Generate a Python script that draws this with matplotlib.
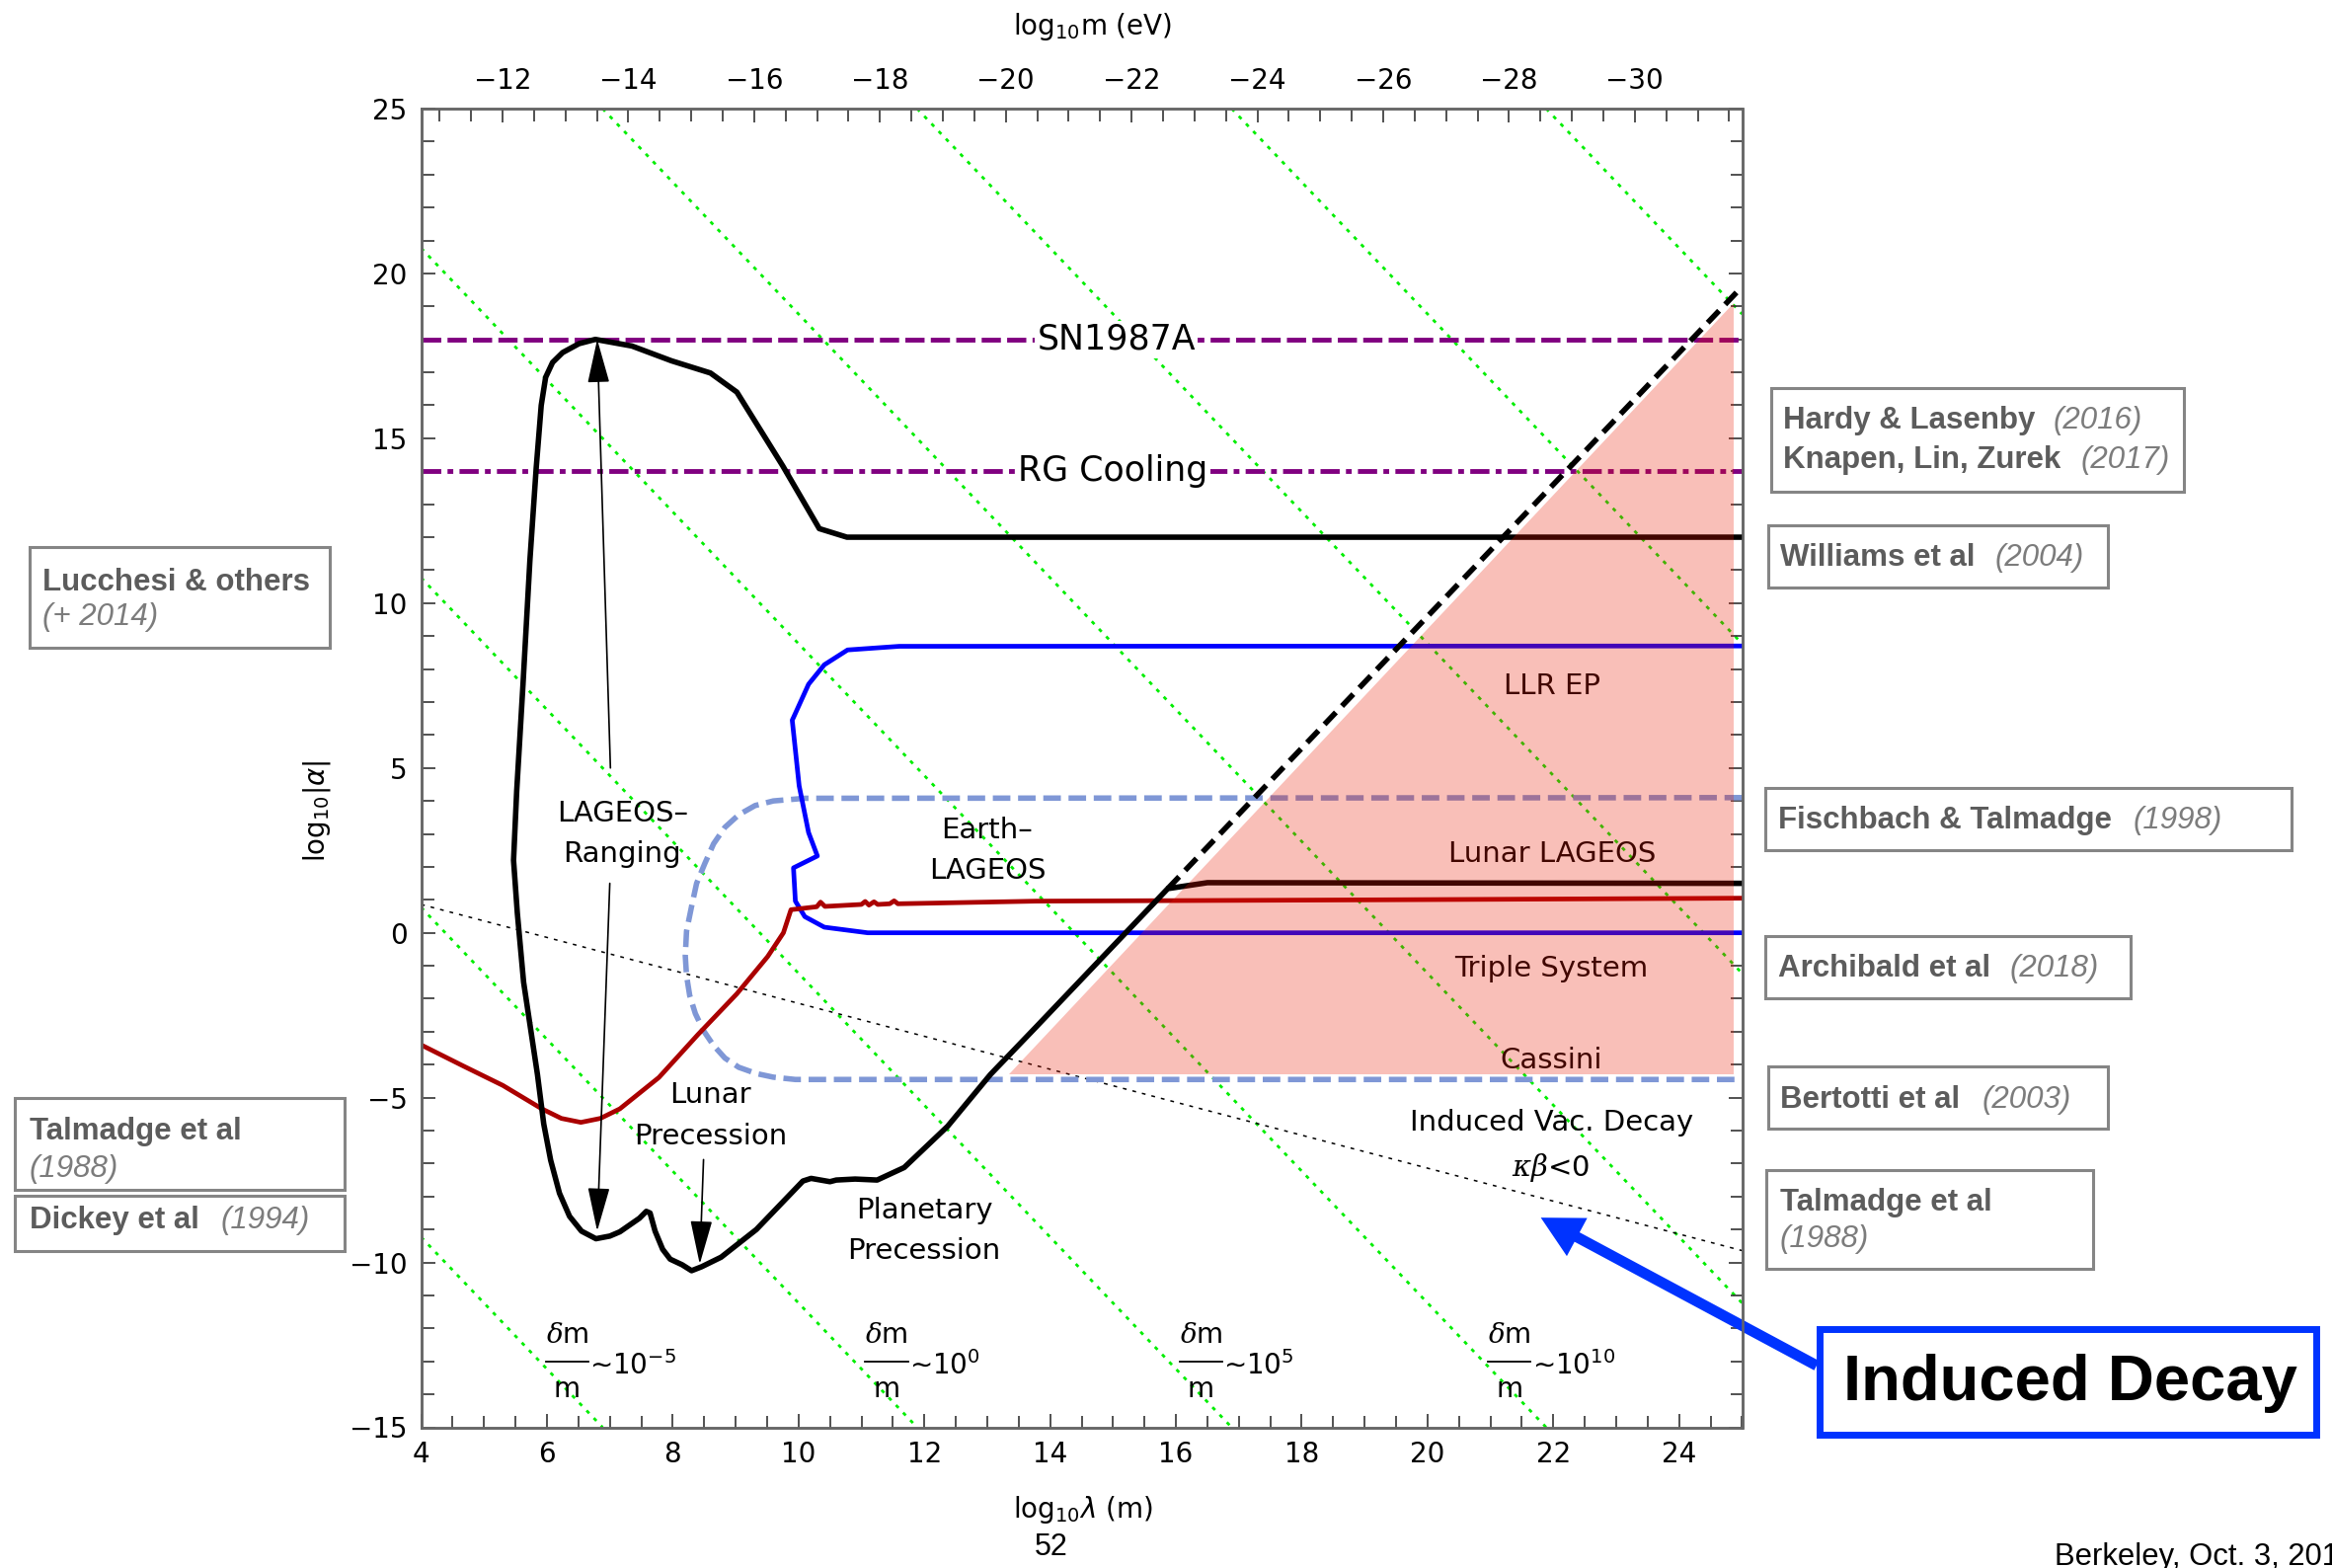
import matplotlib.pyplot as plt
from matplotlib.patches import Rectangle

W, H = 2362, 1588

# plot ranges
lam_lim = (4, 25)
alpha_lim = (-15, 25)
log_hbarc = -6.705  # log10(hbar*c) in eV m, links lambda to m

# black bound: LAGEOS ranging, lunar/planetary precession, Lunar LAGEOS
lageos_x = [25.0, 10.77, 10.33, 9.75, 9.02, 8.60, 7.98, 7.35, 6.77, 6.51, 6.25, 6.09,
            5.98, 5.91, 5.83, 5.73, 5.62, 5.52, 5.47, 5.53, 5.63, 5.74, 5.85, 5.95,
            6.06, 6.20, 6.36, 6.55, 6.78, 7.00, 7.16, 7.47, 7.58, 7.64, 7.72, 7.84,
            7.96, 8.15, 8.30, 8.46, 8.77, 9.33, 10.07, 10.20, 10.50, 10.60, 10.90,
            11.25, 11.68, 12.37, 13.05, 13.78, 15.87, 16.50, 25.0]
lageos_y = [12.0, 12.0, 12.26, 14.16, 16.40, 16.98, 17.35, 17.80, 18.0, 17.87, 17.60,
            17.30, 16.85, 16.0, 14.1, 11.3, 7.53, 4.3, 2.2, 0.6, -1.5, -2.9, -4.3, -5.8,
            -6.9, -7.9, -8.6, -9.05, -9.28, -9.2, -9.07, -8.66, -8.45, -8.5, -9.05, -9.6,
            -9.9, -10.07, -10.25, -10.13, -9.84, -9.0, -7.53, -7.45, -7.55, -7.5, -7.47,
            -7.5, -7.12, -5.87, -4.3, -2.85, 1.34, 1.52, 1.5]

# continuation of the bound along slope 2
edge_x = [15.87, 25.0]
edge_y = [1.34, 19.6]

# blue: LLR EP (top) and Triple System (bottom)
llr_x = [25.0, 11.6, 10.78, 10.41, 10.16, 9.92, 9.90, 10.01, 10.16, 10.30, 9.92,
         9.95, 10.10, 10.41, 11.10, 25.0]
llr_y = [8.7, 8.69, 8.58, 8.13, 7.54, 6.53, 6.45, 4.46, 3.04, 2.33, 1.97,
         0.96, 0.49, 0.17, 0.0, 0.0]

# dark red: Earth-LAGEOS
red_x = [4.0, 4.67, 5.30, 5.92, 6.23, 6.54, 6.85, 7.16, 7.78, 8.40, 9.02, 9.51, 9.76,
         9.88, 10.29, 10.35, 10.42, 11.00, 11.06, 11.12, 11.20, 11.26, 11.45, 11.52,
         11.58, 13.78, 19.27, 25.0]
red_y = [-3.4, -4.04, -4.63, -5.34, -5.63, -5.75, -5.63, -5.34, -4.39, -3.09, -1.85,
         -0.72, 0.0, 0.7, 0.79, 0.93, 0.80, 0.86, 0.95, 0.84, 0.94, 0.86, 0.88, 0.97,
         0.88, 0.96, 1.0, 1.05]

# light blue dashed: Fischbach & Talmadge / Cassini
fisch_x = [25.0, 10.1, 9.6, 9.31, 9.05, 8.83, 8.65, 8.51, 8.38, 8.30, 8.22, 8.20, 8.22,
           8.27, 8.36, 8.49, 8.65, 8.83, 9.05, 9.33, 9.6, 9.95, 25.0]
fisch_y = [4.1, 4.08, 4.0, 3.86, 3.58, 3.2, 2.7, 2.1, 1.5, 0.8, 0.05, -0.7, -1.3,
           -1.9, -2.45, -2.97, -3.42, -3.8, -4.08, -4.27, -4.38, -4.45, -4.45]

# induced vacuum decay region
induced_x = [13.35, 24.87, 24.87]
induced_y = [-4.3, -4.3, 19.1]

sn1987a = 18.0
rg_cooling = 14.0

# constant dm/m lines, slope -2
dm_slope = -2.0
dm_intercepts = [-1.23, 8.77, 18.77, 28.77, 38.77, 48.77, 58.77, 68.77]
dm_label_x = [5.98, 11.06, 16.06, 20.96]
dm_label_exp = ['-5', '0', '5', '10']
dm_label_y = -13.0

# kappa*beta < 0 line
vac_intercept = 2.86
vac_slope = -0.5

m_ticks = list(range(-12, -31, -2))
lam_ticks = list(range(4, 25, 2))
alpha_ticks = list(range(-15, 26, 5))


def fx(X):
    return X / W


def fy(Y):
    return 1 - Y / H


fig = plt.figure(figsize=(W / 100, H / 100), dpi=100)
ax = fig.add_axes([fx(426.5), fy(1445.5), (1764.5 - 426.5) / W, (1445.5 - 110) / H])
ax.set_xlim(*lam_lim)
ax.set_ylim(*alpha_lim)

for c in dm_intercepts:
    ax.axline((0, c), slope=dm_slope, color='#00ee00', lw=2.0,
              dashes=(1.4, 2.4), zorder=1)
ax.axline((0, vac_intercept), slope=vac_slope, color='black', lw=1.1,
          dashes=(2.5, 4), zorder=1)

ax.axhline(sn1987a, color='#800080', lw=3.5, dashes=(4, 1.3), zorder=2)
ax.axhline(rg_cooling, color='#800080', lw=3.5, dashes=(4, 1.3, 1.2, 1.3), zorder=2)

ax.plot(fisch_x, fisch_y, color='#7f97d6', lw=4, dashes=(3.2, 1.4), zorder=2.5)
ax.plot(llr_x, llr_y, color='#0000ff', lw=3.4, zorder=3)
ax.plot(red_x, red_y, color='#aa0000', lw=3.4, zorder=3)
ax.plot(lageos_x, lageos_y, color='black', lw=4, zorder=3.2)

ax.fill(induced_x, induced_y, color='#eb1900', alpha=0.28, lw=0, zorder=5)
ax.plot(edge_x, edge_y, color='black', lw=4, dashes=(3, 1.6), zorder=6)

# labels inside the plot
lab = dict(fontsize=21, ha='center', va='center', family='DejaVu Sans')
box = dict(fc='white', ec='none', pad=1.5)
ax.text(15.05, sn1987a, 'SN1987A', fontsize=25, ha='center', va='center', bbox=box, zorder=3.5)
ax.text(15.0, rg_cooling, 'RG Cooling', fontsize=25, ha='center', va='center', bbox=box, zorder=3.5)
ax.text(7.2, 3.0, 'LAGEOS–\nRanging', linespacing=1.6, zorder=4, **lab)
ax.text(13.0, 2.5, 'Earth–\nLAGEOS', linespacing=1.6, zorder=4, **lab)
ax.text(8.6, -5.55, 'Lunar\nPrecession', linespacing=1.6, zorder=4, **lab)
ax.text(12.0, -9.03, 'Planetary\nPrecession', linespacing=1.6, zorder=4, **lab)
ax.text(21.98, 7.48, 'LLR EP', zorder=4, **lab)
ax.text(21.98, 2.38, 'Lunar LAGEOS', zorder=4, **lab)
ax.text(21.96, -1.08, 'Triple System', zorder=4, **lab)
ax.text(21.96, -3.87, 'Cassini', zorder=4, **lab)
ax.text(21.98, -5.76, 'Induced Vac. Decay', zorder=4, **lab)
ax.text(21.96, -7.12, r'$\kappa\beta$<0', zorder=4, math_fontfamily='dejavuserif', **lab)

# dm/m ~ 10^n labels, written as a stacked fraction
frac_w = 0.68
for x0, e in zip(dm_label_x, dm_label_exp):
    xc = x0 + frac_w / 2
    ax.text(xc, dm_label_y + 0.8, r'$\delta$m', fontsize=20, ha='center', va='center',
            math_fontfamily='dejavuserif', zorder=4)
    ax.text(xc, dm_label_y - 0.85, 'm', fontsize=20, ha='center', va='center', zorder=4)
    ax.plot([x0, x0 + frac_w], [dm_label_y, dm_label_y], color='black', lw=1.3, zorder=4)
    ax.text(x0 + frac_w + 0.02, dm_label_y - 0.12, '∼10$^{%s}$' % e.replace('-', '−'),
            fontsize=20, ha='left', va='center', zorder=4)

arrow = dict(arrowstyle='-|>,head_length=1.4,head_width=0.35', lw=1.2, color='black',
             mutation_scale=20, shrinkA=0, shrinkB=0)
ax.annotate('', xy=(6.8, 18.0), xytext=(7.01, 5.0), arrowprops=arrow, zorder=6)
ax.annotate('', xy=(6.8, -9.05), xytext=(7.0, 1.5), arrowprops=arrow, zorder=6)
ax.annotate('', xy=(8.43, -10.05), xytext=(8.49, -6.88), arrowprops=arrow, zorder=6)

# axes, ticks
ax.set_xticks(lam_ticks)
ax.set_xticks([v / 2 for v in range(8, 51)], minor=True)
ax.set_yticks(alpha_ticks)
ax.set_yticks(range(-15, 26), minor=True)
ax.tick_params(which='both', direction='in', top=False, right=True, width=1.2,
               color='#333333', labelsize=20)
ax.tick_params(which='major', length=10, pad=10)
ax.tick_params(which='minor', length=9)
for s in ax.spines.values():
    s.set_color('#666666')
    s.set_linewidth(1.8)

ax2 = ax.twiny()
ax2.set_xlim(log_hbarc - lam_lim[0], log_hbarc - lam_lim[1])
ax2.set_xticks(m_ticks)
ax2.set_xticks([m / 2 for m in range(-22, -64, -1)], minor=True)
ax2.set_xticklabels(['−%d' % -m for m in m_ticks])
ax2.tick_params(which='both', direction='in', width=1.2, color='#333333', labelsize=20)
ax2.tick_params(which='major', length=10, pad=10)
ax2.tick_params(which='minor', length=9)
for s in ax2.spines.values():
    s.set_color('#666666')
    s.set_linewidth(1.8)

fig.text(fx(1107), fy(27), r'log$_{10}$m (eV)', fontsize=20, ha='center', va='center')
fig.text(fx(1097), fy(1529), r'log$_{10}\lambda$ (m)', fontsize=20, ha='center', va='center')
fig.text(fx(321), fy(821), r'log$_{10}|\alpha|$', fontsize=20, ha='center', va='center',
         rotation=90)

# reference boxes around the frame
name_c, year_c, edge_c = '#5c5c5c', '#7c7c7c', '#858585'
sans = 'Liberation Sans'


def ref_box(X0, Y0, X1, Y1):
    fig.add_artist(Rectangle((fx(X0), fy(Y1)), (X1 - X0) / W, (Y1 - Y0) / H,
                             transform=fig.transFigure, fill=False, ec=edge_c, lw=2.2))


def name(X, Y, s):
    fig.text(fx(X), fy(Y), s, fontsize=22.5, family=sans, weight='bold', color=name_c,
             ha='left', va='center')


def year(X, Y, s):
    fig.text(fx(X), fy(Y), s, fontsize=22.5, family=sans, style='italic', color=year_c,
             ha='left', va='center')


ref_box(1794, 393, 2212, 498)
name(1806, 426, 'Hardy & Lasenby')
year(2080, 426, '(2016)')
name(1806, 466, 'Knapen, Lin, Zurek')
year(2108, 466, '(2017)')

ref_box(1791, 532, 2135, 595)
name(1803, 565, 'Williams et al')
year(2021, 565, '(2004)')

ref_box(1788, 798, 2321, 861)
name(1801, 831, 'Fischbach & Talmadge')
year(2161, 831, '(1998)')

ref_box(1788, 948, 2158, 1011)
name(1801, 981, 'Archibald et al')
year(2036, 981, '(2018)')

ref_box(1791, 1080, 2135, 1143)
name(1803, 1114, 'Bertotti et al')
year(2008, 1114, '(2003)')

ref_box(1789, 1185, 2120, 1285)
name(1803, 1218, 'Talmadge et al')
year(1803, 1255, '(1988)')

ref_box(30, 554, 334, 656)
name(43, 590, 'Lucchesi & others')
year(43, 625, '(+ 2014)')

ref_box(15, 1112, 349, 1205)
name(30, 1146, 'Talmadge et al')
year(30, 1184, '(1988)')

ref_box(15, 1211, 349, 1267)
name(30, 1236, 'Dickey et al')
year(224, 1236, '(1994)')

# highlighted region callout
blue = '#0033ff'
fig.add_artist(Rectangle((fx(1843), fy(1453)), (2346 - 1843) / W, (1453 - 1346) / H,
                         transform=fig.transFigure, fill=False, ec=blue, lw=5))
fig.text(fx(2097), fy(1401), 'Induced Decay', fontsize=47, family=sans, weight='bold',
         ha='center', va='center')
ax.annotate('', xy=(21.8, -8.64), xytext=(fx(1840), fy(1383)), textcoords='figure fraction',
            arrowprops=dict(arrowstyle='simple,head_length=1.0,head_width=1.05,tail_width=0.26',
                            mutation_scale=30, fc=blue, ec='none', shrinkA=0, shrinkB=0),
            annotation_clip=False, zorder=7)

fig.text(fx(1065), fy(1567), '52', fontsize=22, family=sans, ha='center', va='center')
# slide footer runs off the right edge
fig.text(fx(2081), fy(1585), 'Berkeley, Oct. 3, 2018', fontsize=22.3, family=sans,
         ha='left', va='baseline')

fig.savefig('out.png', dpi=100)
